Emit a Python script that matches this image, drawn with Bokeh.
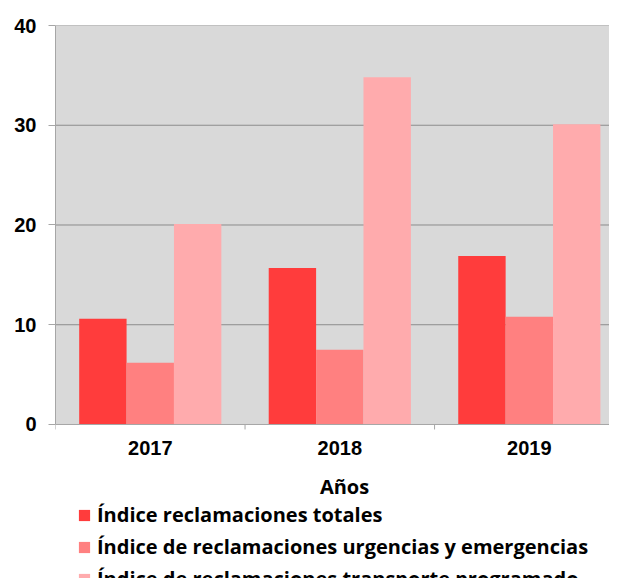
from bokeh.plotting import figure
from bokeh.models import (ColumnDataSource, Range1d, FixedTicker, Legend, LegendItem)
from bokeh.core.properties import value
from bokeh.embed import file_html
from bokeh.resources import INLINE

# ---- data ----
years = ["2017", "2018", "2019"]
totales = [10.6, 15.7, 16.9]
urgencias = [6.2, 7.5, 10.8]
programado = [20.1, 34.8, 30.1]
series_names = ["Índice reclamaciones totales",
                "Índice de reclamaciones urgencias y emergencias",
                "Índice de reclamaciones transporte programado"]
y_ticks = [0, 10, 20, 30, 40]
x_title = "Años"

colors = ["#FF3C3C", "#FF8080", "#FFABAD"]
grey_bg = "#D9D9D9"
axis_grey = "#A6A6A6"
grid_grey = "#8C8C8C"

n = len(years)
centers = [i + 0.5 for i in range(n)]
x_end = 2.923
y_lo = -15.44

p = figure(width=609, height=578, output_backend="svg", toolbar_location=None,
           x_range=Range1d(0, x_end), y_range=Range1d(y_lo, y_ticks[-1]),
           x_axis_location=None,
           min_border_left=55, min_border_right=0, min_border_top=25,
           min_border_bottom=0)
p.background_fill_color = "white"
p.border_fill_color = "white"
p.outline_line_color = None
p.grid.grid_line_color = None

# plot-area background
p.quad(left=0, right=x_end, bottom=y_ticks[0], top=y_ticks[-1],
       fill_color=grey_bg, line_color=None)
# horizontal gridlines
p.segment(x0=[0] * (len(y_ticks) - 1), x1=[x_end] * (len(y_ticks) - 1),
          y0=y_ticks[1:], y1=y_ticks[1:], line_color=grid_grey, line_width=1)

bw = 0.25
rs = []
for off, vals, clr in zip([-bw, 0, bw], [totales, urgencias, programado], colors):
    s = ColumnDataSource(dict(x=[c + off for c in centers], top=vals))
    rs.append(p.vbar(x="x", top="top", width=bw, source=s, fill_color=clr, line_color=None))

# x axis line and category tick marks
p.segment(x0=[0], x1=[x_end], y0=[0], y1=[0], line_color=axis_grey, line_width=1)
bounds = list(range(n + 1))
p.segment(x0=bounds, x1=bounds, y0=[0] * len(bounds), y1=[-0.5] * len(bounds),
          line_color=axis_grey, line_width=1)

# category labels
p.text(x=centers, y=[-2.38] * n, text=years, text_align="center",
       text_baseline="alphabetic", text_font=value("Liberation Sans"),
       text_font_style="bold", text_font_size="20px", text_color="black")
# axis title
p.text(x=[1.525], y=[-6.19], text=[x_title], text_align="center",
       text_baseline="alphabetic", text_font=value("Open Sans"),
       text_font_style="bold", text_font_size="20px", text_color="black")

# y axis
p.yaxis.bounds = (y_ticks[0], y_ticks[-1])
p.yaxis.ticker = FixedTicker(ticks=y_ticks)
p.yaxis.axis_line_color = axis_grey
p.yaxis.major_tick_line_color = axis_grey
p.yaxis.major_tick_out = 7
p.yaxis.major_tick_in = 0
p.yaxis.minor_tick_line_color = None
p.yaxis.major_label_standoff = 12
p.yaxis.major_label_text_font = "Liberation Sans"
p.yaxis.major_label_text_font_style = "bold"
p.yaxis.major_label_text_font_size = "20px"
p.yaxis.major_label_text_color = "black"

legend = Legend(items=[LegendItem(label=nm, renderers=[r]) for nm, r in zip(series_names, rs)],
                location=(22, -14), orientation="vertical",
                glyph_width=14, glyph_height=14, label_height=20, spacing=5,
                label_standoff=6, padding=0, margin=0,
                border_line_color=None, background_fill_alpha=0,
                label_text_font="Open Sans", label_text_font_style="bold",
                label_text_font_size="20px", label_text_color="black")
p.add_layout(legend, "center")

open("out.html", "w").write(file_html(p, INLINE))
